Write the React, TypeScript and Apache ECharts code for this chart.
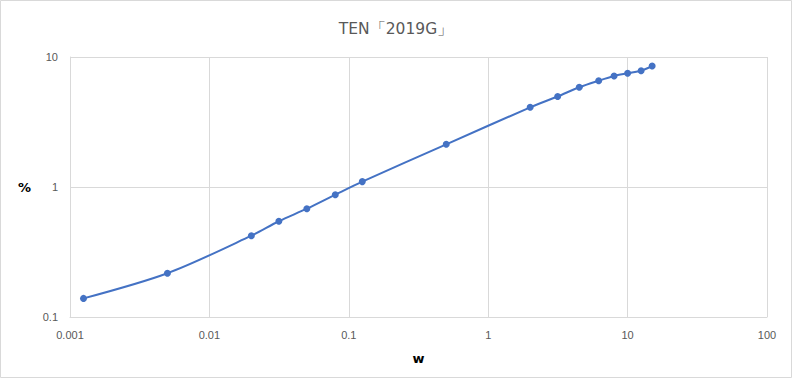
import React, { useEffect, useRef } from "react";
import * as echarts from "echarts";

const titleText = "TEN「2019G」";
const xValues = [0.00125, 0.005, 0.02, 0.0315, 0.05, 0.08, 0.125, 0.5, 2, 3.15, 4.5, 6.2, 8, 10, 12.5, 15];
const yValues = [0.139, 0.217, 0.422, 0.545, 0.681, 0.873, 1.1, 2.13, 4.1, 4.97, 5.85, 6.57, 7.14, 7.49, 7.85, 8.53];
const xName = "w";
const yName = "%";

const fmt = (v: number) => String(parseFloat(Number(v).toPrecision(6)));

export default function App() {
  const ref = useRef<HTMLDivElement>(null);
  useEffect(() => {
    document.body.style.margin = "0";
    const chart = echarts.init(ref.current!, null, { renderer: "svg" });
    const labelColor = "#595959";
    chart.setOption({
      animation: false,
      backgroundColor: "#ffffff",
      title: {
        text: titleText,
        left: "center",
        top: 16,
        textStyle: { color: labelColor, fontSize: 15.5, fontWeight: "normal", fontFamily: "DejaVu Sans" },
      },
      grid: { left: 70, right: 25, top: 57, bottom: 61 },
      xAxis: {
        type: "log",
        logBase: 10,
        min: 0.001,
        max: 100,
        name: xName,
        nameLocation: "middle",
        nameGap: 35,
        nameTextStyle: { color: "#000", fontSize: 13, fontWeight: "bold", fontFamily: "DejaVu Sans" },
        axisLine: { show: true, lineStyle: { color: "#d9d9d9" } },
        axisTick: { show: false },
        axisLabel: { color: labelColor, fontSize: 11, margin: 12, formatter: fmt, fontFamily: "Liberation Sans" },
        splitLine: { show: true, lineStyle: { color: "#d9d9d9", width: 1 } },
        minorTick: { show: false },
      },
      yAxis: {
        type: "log",
        logBase: 10,
        min: 0.1,
        max: 10,
        name: yName,
        nameLocation: "middle",
        nameRotate: 0,
        nameGap: 39,
        nameTextStyle: { color: "#000", fontSize: 13, fontWeight: "bold", fontFamily: "DejaVu Sans" },
        axisLine: { show: true, lineStyle: { color: "#d9d9d9" } },
        axisTick: { show: false },
        axisLabel: { color: labelColor, fontSize: 11, margin: 12, formatter: fmt, fontFamily: "Liberation Sans" },
        splitLine: { show: true, lineStyle: { color: "#d9d9d9", width: 1 } },
      },
      series: [
        {
          type: "line",
          data: xValues.map((x, i) => [x, yValues[i]]),
          smooth: 0.3,
          symbol: "circle",
          symbolSize: 7,
          lineStyle: { color: "#4472C4", width: 2 },
          itemStyle: { color: "#4472C4" },
        },
      ],
      graphic: [
        {
          type: "rect",
          shape: { x: 0.5, y: 0.5, width: 791, height: 377 },
          style: { fill: "none", stroke: "#d9d9d9", lineWidth: 1 },
          silent: true,
        },
      ],
    });
    return () => chart.dispose();
  }, []);
  return <div ref={ref} style={{ width: 792, height: 378 }} />;
}
